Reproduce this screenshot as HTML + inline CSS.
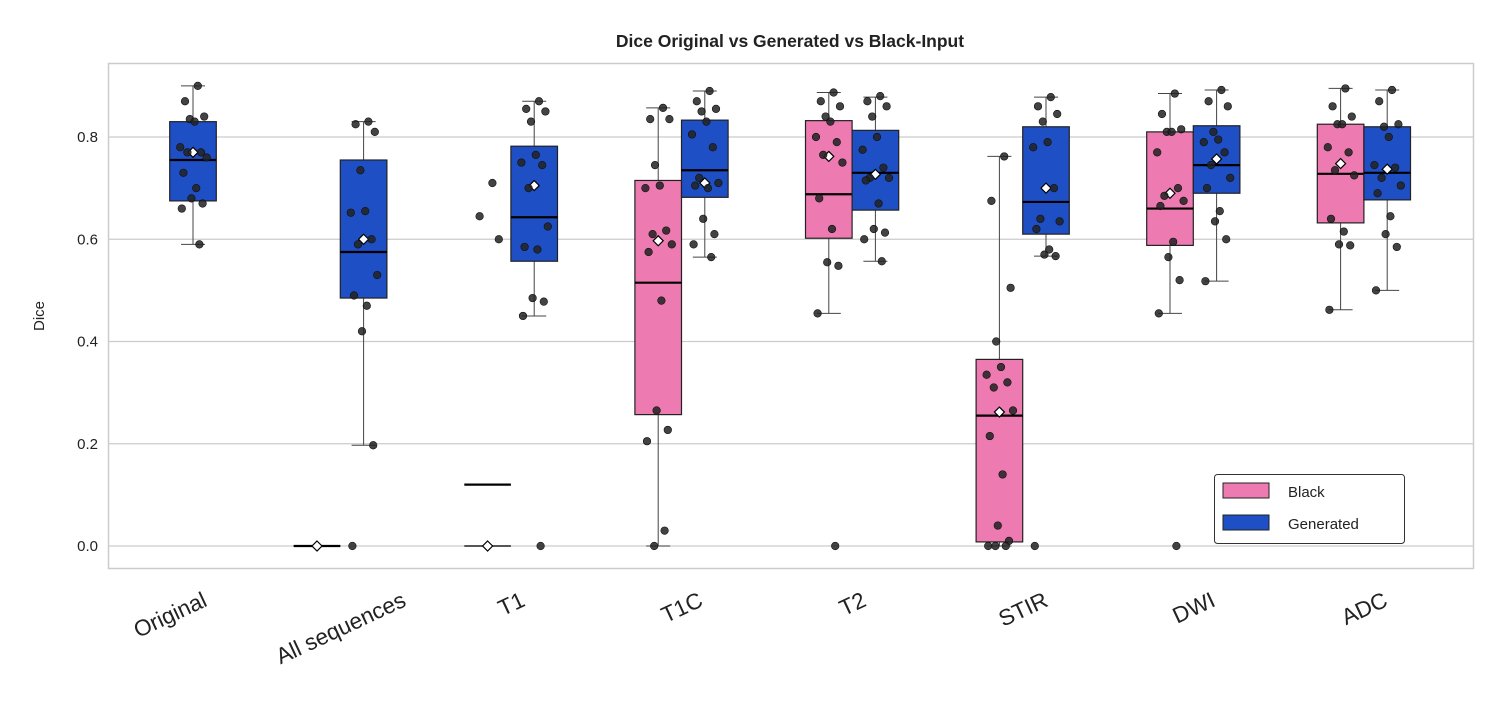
<!DOCTYPE html>
<html><head><meta charset="utf-8"><style>
body{margin:0;background:#fff;font-family:"Liberation Sans",sans-serif}
</style></head><body>
<svg id="chart" width="1500" height="700" xmlns="http://www.w3.org/2000/svg" font-family="Liberation Sans, sans-serif">
<text x="790" y="47" text-anchor="middle" font-size="17.5" font-weight="bold" fill="#222">Dice Original vs Generated vs Black-Input</text>
<text transform="translate(44,316) rotate(-90)" text-anchor="middle" font-size="15" fill="#222">Dice</text>
<g id="grid"></g><g id="marks"></g>
<rect x="108.5" y="63.5" width="1365" height="505" fill="none" stroke="#ccc" stroke-width="1.5"/>
<g>
<rect x="1214.5" y="474.5" width="190" height="69" rx="3" fill="#fff" stroke="#333" stroke-width="1"/>
<rect x="1223" y="483" width="46" height="15" fill="#ee7ab2" stroke="#222"/>
<text x="1288" y="497" font-size="15" fill="#222">Black</text>
<rect x="1223" y="515" width="46" height="15" fill="#1f4fc4" stroke="#222"/>
<text x="1288" y="529" font-size="15" fill="#222">Generated</text>
</g>
</svg>
<script>
const categories=["Original","All sequences","T1","T1C","T2","STIR","DWI","ADC"];
const yTicks=[0.0,0.2,0.4,0.6,0.8];
// stats: [q1, median, q3, whiskerLow, whiskerHigh, mean]; null = no box
const blackStats=[null,[0,0,0,0,0,0],[0,0.12,0,0,0,0],[0.257,0.515,0.715,0,0.857,0.597],[0.602,0.688,0.832,0.455,0.887,0.762],[0.008,0.255,0.365,0,0.762,0.262],[0.588,0.66,0.81,0.455,0.885,0.69],[0.632,0.728,0.825,0.462,0.895,0.748]];
const genStats=[[0.675,0.755,0.83,0.59,0.90,0.77],[0.485,0.575,0.755,0.197,0.83,0.60],[0.557,0.643,0.782,0.45,0.87,0.705],[0.682,0.735,0.833,0.565,0.89,0.71],[0.657,0.73,0.813,0.557,0.878,0.727],[0.61,0.673,0.82,0.567,0.878,0.70],[0.69,0.745,0.822,0.518,0.892,0.757],[0.677,0.73,0.82,0.50,0.892,0.737]];
const blackPoints=[[],[],[0.71,0.645,0.60],
[0.857,0.835,0.835,0.745,0.705,0.70,0.617,0.61,0.59,0.575,0.48,0.265,0.227,0.205,0.03,0.0],
[0.887,0.87,0.86,0.84,0.83,0.80,0.79,0.765,0.75,0.68,0.62,0.555,0.548,0.455,0],
[0.762,0.675,0.505,0.40,0.35,0.335,0.32,0.31,0.265,0.215,0.14,0.04,0.01,0,0,0],
[0.885,0.845,0.815,0.81,0.81,0.77,0.70,0.685,0.675,0.665,0.595,0.565,0.52,0.455,0],
[0.895,0.86,0.84,0.825,0.825,0.78,0.77,0.735,0.725,0.64,0.615,0.59,0.588,0.462]];
const genPoints=[[0.90,0.87,0.84,0.835,0.83,0.78,0.77,0.77,0.76,0.73,0.70,0.68,0.67,0.66,0.59],
[0.83,0.825,0.81,0.735,0.655,0.652,0.6,0.59,0.53,0.49,0.47,0.42,0.197,0],
[0.87,0.855,0.85,0.83,0.765,0.75,0.745,0.70,0.625,0.585,0.58,0.485,0.478,0.45,0],
[0.89,0.87,0.855,0.85,0.83,0.805,0.78,0.72,0.71,0.705,0.70,0.64,0.61,0.59,0.565],
[0.88,0.87,0.86,0.84,0.80,0.775,0.74,0.72,0.72,0.715,0.67,0.62,0.613,0.60,0.557],
[0.878,0.86,0.845,0.83,0.79,0.78,0.70,0.64,0.635,0.62,0.58,0.57,0.567,0],
[0.892,0.87,0.86,0.81,0.795,0.79,0.77,0.745,0.72,0.70,0.655,0.635,0.60,0.518],
[0.892,0.87,0.825,0.82,0.80,0.745,0.74,0.72,0.705,0.69,0.645,0.61,0.585,0.50]];

const NS="http://www.w3.org/2000/svg";
const yS=v=>546-v*511.25;
const xS=i=>193+170.6*i;
const BW=46.6;
const grid=document.getElementById('grid'), marks=document.getElementById('marks');
function mk(tag,attrs,parent){const e=document.createElementNS(NS,tag);for(const k in attrs)e.setAttribute(k,attrs[k]);parent.appendChild(e);return e;}
yTicks.forEach(t=>{
  const l=mk('line',{x1:109,x2:1473,y1:yS(t),y2:yS(t),stroke:'#ccc','stroke-width':1.3},grid);
  
  
  const tx=mk('text',{x:98,y:yS(t)+5,'text-anchor':'end','font-size':15,fill:'#222'},grid);
  tx.textContent=t.toFixed(1);
  
  
});
const FS=22.5, ang=25*Math.PI/180;
categories.forEach((c,i)=>{
  const tx=mk('text',{x:0,y:0,'text-anchor':'middle','font-size':FS,fill:'#222'},grid);
  tx.textContent=c;
  
  
  const w=tx.getComputedTextLength(), h=FS*1.0;
  const bh=w*Math.sin(ang)+h*Math.cos(ang);
  const cx=xS(i)-23, cy=588+bh/2;
  tx.setAttribute('x',cx);
  tx.setAttribute('y',cy+FS*0.35);
  tx.setAttribute('transform',`rotate(-25 ${cx} ${cy})`);
});
function drawBox(s,cx,fill,name){
  if(!s)return;
  const g=mk('g',{},marks);
  
  
  const [q1,med,q3,wl,wh,mean]=s;
  mk('line',{x1:cx,x2:cx,y1:yS(q3),y2:yS(wh),stroke:'#444','stroke-width':1},g);
  mk('line',{x1:cx,x2:cx,y1:yS(q1),y2:yS(wl),stroke:'#444','stroke-width':1},g);
  mk('line',{x1:cx-12,x2:cx+12,y1:yS(wh),y2:yS(wh),stroke:'#444','stroke-width':1},g);
  mk('line',{x1:cx-12,x2:cx+12,y1:yS(wl),y2:yS(wl),stroke:'#444','stroke-width':1},g);
  const top=Math.min(yS(q3),yS(q1)),h=Math.abs(yS(q1)-yS(q3));
  if(h>0.5) mk('rect',{x:cx-BW/2,y:top,width:BW,height:h,fill:fill,stroke:'#222','stroke-width':1.2},g);
  else mk('line',{x1:cx-BW/2,x2:cx+BW/2,y1:top,y2:top,stroke:'#222','stroke-width':1.5},g);
  mk('line',{x1:cx-BW/2,x2:cx+BW/2,y1:yS(med),y2:yS(med),stroke:'#000','stroke-width':2.2},g);
  const my=yS(mean);
  mk('polygon',{points:`${cx},${my-5} ${cx+5},${my} ${cx},${my+5} ${cx-5},${my}`,fill:'#fff',stroke:'#000','stroke-width':1.2},g);
}
const jit=[0.3,-0.5,0.7,-0.2,0.1,-0.8,0.5,-0.35,0.85,-0.6,0.2,-0.1,0.6,-0.7,0.4,-0.25];
function drawPts(arr,cx,name){
  arr.forEach((v,k)=>{
    const c=mk('circle',{cx:cx+jit[k%jit.length]*16,cy:yS(v),r:3.8,fill:'#222','fill-opacity':0.85,stroke:'#111','stroke-width':0.6},marks);
    
    
  });
}
categories.forEach((c,i)=>{
  const cg=xS(i), cb=xS(i)-BW;
  drawBox(blackStats[i],cb,'#ee7ab2','box-black-'+i);
  drawBox(genStats[i],cg,'#1f4fc4','box-generated-'+i);
});
categories.forEach((c,i)=>{
  drawPts(blackPoints[i],xS(i)-BW,'point-black');
  drawPts(genPoints[i],xS(i),'point-generated');
});
</script>
</body></html>
